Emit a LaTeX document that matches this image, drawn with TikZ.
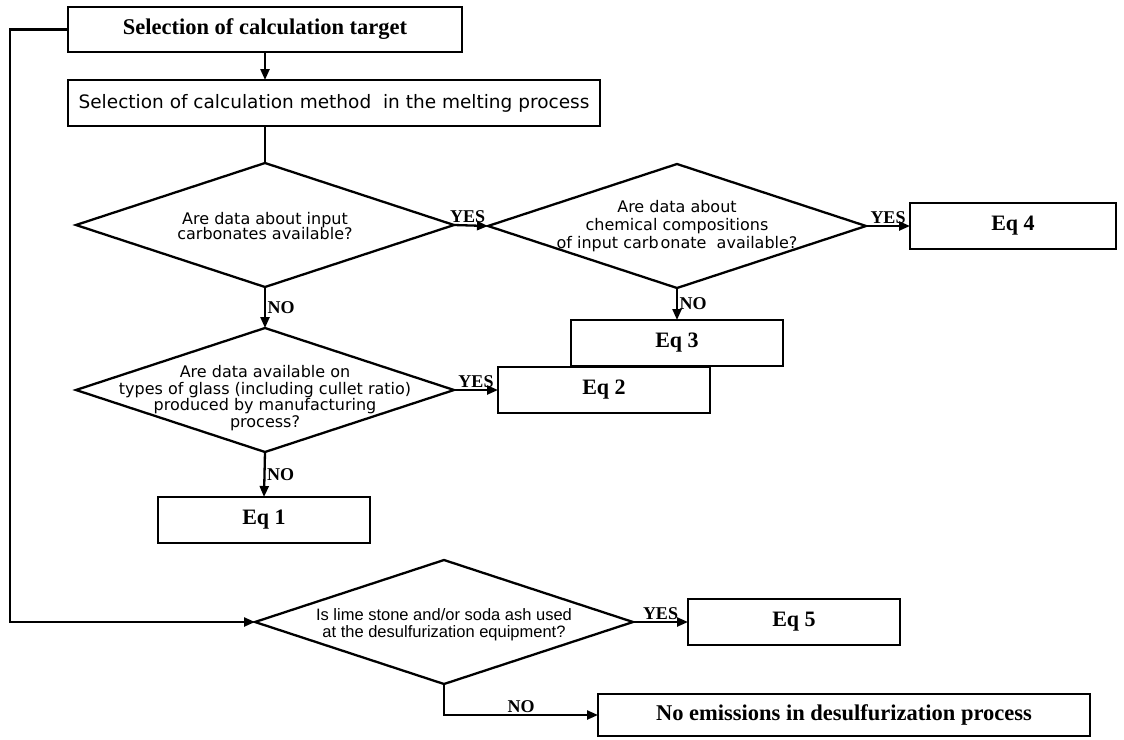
\documentclass[tikz,border=0pt]{standalone}
\usepackage{fontspec}
\setmainfont{Liberation Serif}
\newfontfamily\dvs{DejaVu Sans}
\newfontfamily\lsans{Liberation Sans}
\usetikzlibrary{shapes.geometric,arrows.meta}
\begin{document}
\begin{tikzpicture}[x=1pt,y=-1pt,
  box/.style={draw, line width=2.6pt, inner sep=0pt, outer sep=0pt, align=center},
  eqbox/.style={box, minimum width=212pt, minimum height=46pt, font=\bfseries\fontsize{22}{24}\selectfont},
  dia/.style={draw, diamond, line width=2.3pt, minimum width=378pt, minimum height=124pt, inner sep=0pt, outer sep=0pt},
  dtext/.style={align=center, inner sep=0pt},
  arr/.style={line width=2.3pt, -{Triangle[length=11pt,width=9pt]}},
  ln/.style={line width=2.3pt},
  lab/.style={font=\bfseries\fontsize{18}{18}\selectfont, inner sep=1.5pt}]
\fill[white] (0,0) rectangle (1124,739);
\useasboundingbox (0,0) rectangle (1124,739);

% boxes
\node[box, minimum width=394pt, minimum height=45pt, font=\bfseries\fontsize{22.5}{24}\selectfont] (b1) at (265,29.5) {Selection of calculation target};
\node[box, minimum width=532pt, minimum height=46pt, font=\dvs\fontsize{18.5}{20}\selectfont] (b2) at (334,103) {Selection of calculation method~ in the melting process};

% diamonds
\node[dia] (d1) at (265,225) {};
\node[dtext, font=\dvs\fontsize{16}{15.5}\selectfont] (t1) at (265,226) {Are data about input\\carbonates available?};
\node[dia] (d2) at (265,390) {};
\node[dtext, font=\dvs\fontsize{16}{16.7}\selectfont] (t2) at (265,398) {Are data available on\\types of glass (including cullet ratio)\\produced by manufacturing\\process?};
\node[dia] (d3) at (677,226) {};
\node[dtext, font=\dvs\fontsize{16}{18}\selectfont] (t3) at (677,226) {Are data about\\chemical compositions\\of input carb\hspace{2pt}onate~ available?};
\node[dia] (d5) at (444,622) {};
\node[dtext, font=\lsans\fontsize{16.5}{17}\selectfont] (t5) at (444,624.5) {Is lime stone and/or soda ash used\\at the desulfurization equipment?};

% equation boxes
\node[eqbox, minimum width=206pt] (eq4) at (1013,226) {Eq 4};
\node[eqbox] (eq3) at (677,343) {Eq 3};
\node[eqbox] (eq2) at (604,390) {Eq 2};
\node[eqbox] (eq1) at (264,520) {Eq 1};
\node[eqbox] (eq5) at (794,622) {Eq 5};
\node[box, minimum width=492pt, minimum height=42pt, font=\bfseries\fontsize{22.5}{24}\selectfont] (noem) at (844,715) {No emissions in desulfurization process};

% connectors
\draw[arr] (b1.south) -- (b1.south |- b2.north);
\draw[ln] (b2.south -| d1.north) -- (d1.north);
\draw[arr] (d1.east) -- node[lab, above, pos=0.4] {YES} (d3.west);
\draw[arr] (d3.east) -- node[lab, above] {YES} (eq4.west);
\draw[arr] (d3.south) -- node[lab, right] {NO} (eq3.north);
\draw[arr] (d1.south) -- node[lab, right] {NO} (d2.north);
\draw[arr] (d2.east) -- node[lab, above] {YES} (eq2.west);
\draw[arr] (d2.south) -- node[lab, right] {NO} (eq1.north);
\draw[arr] (b1.west) -- ++(-58,0) |- (d5.west);
\draw[arr] (d5.east) -- node[lab, above] {YES} (eq5.west);
\draw[arr] (d5.south) |- node[lab, above, pos=0.75] {NO} (noem.west);
\end{tikzpicture}
\end{document}
